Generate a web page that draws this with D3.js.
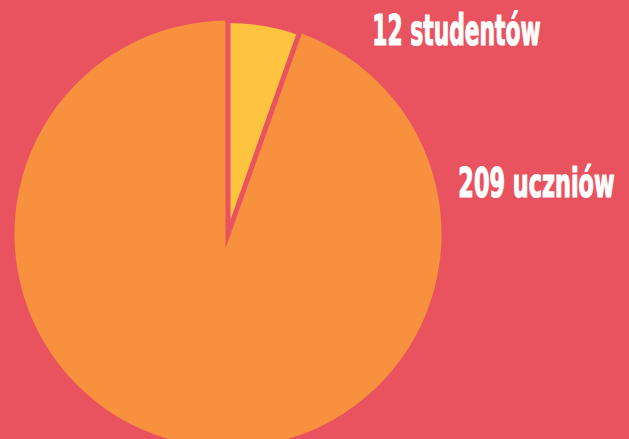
<!DOCTYPE html>
<html>
<head>
<meta charset="utf-8">
<script src="https://cdn.jsdelivr.net/npm/d3@7"></script>
<style>
  html, body { margin: 0; padding: 0; background: #E9535F; }
  svg { display: block; }
</style>
</head>
<body>
<svg id="chart" width="629" height="439"></svg>
<script>
const categories = ["studentów", "uczniów"];
const values = [12, 209];
const labels = ["12 studentów", "209 uczniów"];
const colors = ["#FEC43F", "#F8913D"];

const W = 629, H = 439;
const bg = "#E9535F";
const cx = 228, cy = 234, R = 213.5;

const svg = d3.select("#chart");
svg.append("rect").attr("width", W).attr("height", H).attr("fill", bg);

const pie = d3.pie().sort(null).value(d => d)(values);
const arc = d3.arc().innerRadius(0).outerRadius(R);

const g = svg.append("g").attr("transform", `translate(${cx},${cy})`);
const order = [1, 0];
g.selectAll("path.slice")
  .data(order.map(i => ({a: pie[i], i})))
  .join("path")
  .attr("class", "slice")
  .attr("d", d => arc(d.a))
  .attr("fill", d => colors[d.i])
  .attr("stroke", bg)
  .attr("stroke-width", d => d.i === 0 ? 5 : 0)
  .attr("stroke-linejoin", "miter")
  .attr("stroke-miterlimit", 10);

// labels: condensed bold, horizontally scaled to the reference width
const labelPos = [
  {x: 372, y: 45, w: 169, fs: 42},
  {x: 458, y: 196.5, w: 157, fs: 40}
];
const txt = svg.selectAll("text.lbl")
  .data(labels)
  .join("text")
  .attr("class", "lbl")
  .attr("x", 0)
  .attr("y", 0)
  .attr("font-family", "'DejaVu Sans Condensed', 'Liberation Sans', sans-serif")
  .attr("font-weight", "bold")
  .attr("font-size", (d, i) => labelPos[i].fs)
  .attr("fill", "#FFFFFF")
  .attr("stroke", "#FFFFFF")
  .attr("stroke-width", 1.2)
  .attr("stroke-linejoin", "round")
  .text(d => d);
txt.each(function(d, i) {
  const natural = this.getComputedTextLength() + 1.2;
  const sx = labelPos[i].w / natural;
  d3.select(this).attr("transform",
    `translate(${labelPos[i].x + 0.6 * sx},${labelPos[i].y}) scale(${sx},1)`);
});
</script>
</body>
</html>
